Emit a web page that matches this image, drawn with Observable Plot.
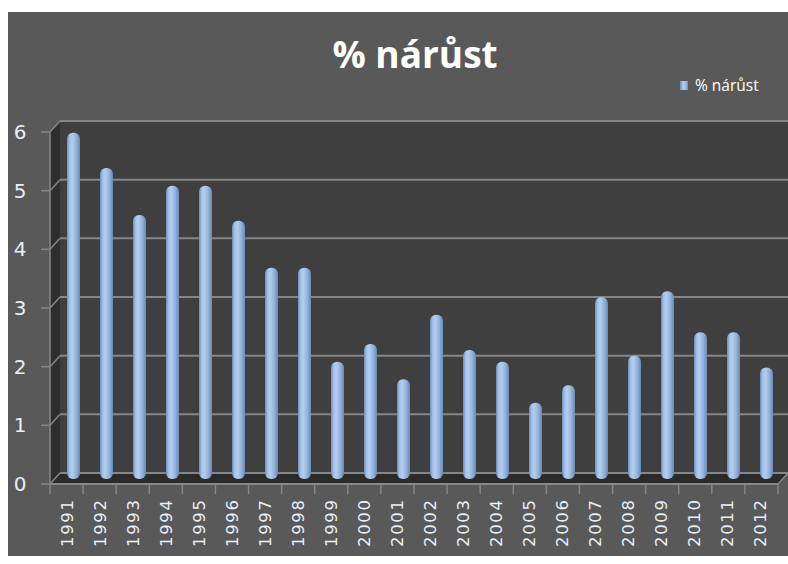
<!DOCTYPE html>
<html><head><meta charset="utf-8">
<script src="https://cdn.jsdelivr.net/npm/d3@7"></script>
<script src="https://cdn.jsdelivr.net/npm/@observablehq/plot@0.6"></script>
<style>
body{margin:0;background:#fff;}
#wrap{position:relative;width:788px;height:564px;overflow:hidden;background:#fff;}
#panel{position:absolute;left:8px;top:12px;width:780px;height:544px;background:#595959;}
#title{position:absolute;left:0;width:830px;top:32px;text-align:center;color:#fff;font-family:"Open Sans",sans-serif;font-weight:700;font-size:37px;line-height:44px;}
#legend{position:absolute;left:680px;top:75px;color:#fff;font-family:"Open Sans",sans-serif;font-size:15.5px;line-height:20px;display:flex;align-items:center;gap:7px;}
#legend .sw{width:8px;height:9px;background:linear-gradient(90deg,#6f8fb8,#b5cff0 45%,#8fb0da 80%,#6a8ab3);}
#chart{position:absolute;left:0;top:0;}
#chart svg g[aria-label="x-axis tick label"] text{letter-spacing:1.6px;}
</style>
</head><body>
<div id="wrap">
  <div id="panel"></div>
  <div id="title"></div>
  <div id="legend"><span class="sw"></span><span id="legtext"></span></div>
  <div id="chart"></div>
</div>
<script>
const years = ["1991","1992","1993","1994","1995","1996","1997","1998","1999","2000","2001","2002","2003","2004","2005","2006","2007","2008","2009","2010","2011","2012"];
const growth = [5.9,5.3,4.5,5.0,5.0,4.4,3.6,3.6,2.0,2.3,1.7,2.8,2.2,2.0,1.3,1.6,3.1,2.1,3.2,2.5,2.5,1.9];
const yTicks = [0,1,2,3,4,5,6];
const seriesName = "% nárůst";
const chartTitle = "% nárůst";

document.getElementById("title").textContent = chartTitle;
document.getElementById("legtext").textContent = seriesName;

const data = years.map((y, i) => ({year: y, value: growth[i]}));
const DX = 10, DY = -11; // 3D depth offset of back wall
const gridColor = "#868686";

function walls(index, scales, values, dims) {
  const x0 = dims.marginLeft, x1 = dims.width - dims.marginRight;
  const y = scales.y;
  const y0 = y(0), y6 = y(yTicks[yTicks.length-1]);
  const g = d3.create("svg:g");
  g.append("rect").attr("x", x0+DX).attr("y", y6+DY).attr("width", x1-x0).attr("height", y0-y6).attr("fill", "#3f3f3f");
  g.append("polygon").attr("points", [[x0,y6],[x0+DX,y6+DY],[x0+DX,y0+DY],[x0,y0]].join(" ")).attr("fill", "#2e2e2e");
  g.append("polygon").attr("points", [[x0,y0],[x0+DX,y0+DY],[x1+DX,y0+DY],[x1,y0]].join(" ")).attr("fill", "#2b2b2b");
  for (const t of yTicks) {
    g.append("line").attr("x1", x0+DX).attr("x2", x1+DX).attr("y1", y(t)+DY).attr("y2", y(t)+DY).attr("stroke", gridColor).attr("stroke-width", 2);
    g.append("line").attr("x1", x0).attr("x2", x0+DX).attr("y1", y(t)).attr("y2", y(t)+DY).attr("stroke", gridColor).attr("stroke-width", 1.5);
    g.append("line").attr("x1", x0-9).attr("x2", x0).attr("y1", y(t)).attr("y2", y(t)).attr("stroke", gridColor).attr("stroke-width", 1.5);
  }
  g.append("line").attr("x1", x1).attr("x2", x1+DX).attr("y1", y0).attr("y2", y0+DY).attr("stroke", gridColor).attr("stroke-width", 1.5);
  return g.node();
}

function frontAxes(index, scales, values, dims) {
  const x0 = dims.marginLeft, x1 = dims.width - dims.marginRight;
  const y = scales.y;
  const y0 = y(0), y6 = y(yTicks[yTicks.length-1]);
  const bw = (x1 - x0) / years.length;
  const g = d3.create("svg:g");
  g.append("line").attr("x1", x0).attr("x2", x0).attr("y1", y6).attr("y2", y0).attr("stroke", gridColor).attr("stroke-width", 1.5);
  g.append("line").attr("x1", x0).attr("x2", x1).attr("y1", y0).attr("y2", y0).attr("stroke", gridColor).attr("stroke-width", 2);
  for (let i = 0; i <= years.length; i++) {
    const xx = x0 + i * bw;
    g.append("line").attr("x1", xx).attr("x2", xx).attr("y1", y0).attr("y2", y0+10).attr("stroke", gridColor).attr("stroke-width", 1.5);
  }
  return g.node();
}

const chart = Plot.plot({
  width: 788,
  height: 564,
  marginLeft: 50,
  marginRight: 10,
  marginTop: 132,
  marginBottom: 80,
  style: {background: "transparent", fontFamily: "DejaVu Sans, sans-serif", overflow: "visible"},
  x: {type: "band", domain: years, padding: 0, label: null},
  y: {domain: [0, 6], label: null},
  marks: [
    walls,
    Plot.barY(data, {x: "year", y: "value", dx: 6, dy: -5, insetLeft: 10, insetRight: 10, rx: 6, fill: "url(#cyl)"}),
    frontAxes,
    Plot.axisY({ticks: yTicks, tickFormat: "d", tickSize: 0, tickPadding: 24, fontSize: 20, color: "#e9eef7", label: null}),
    Plot.axisX({tickSize: 0, tickRotate: -90, tickPadding: 14, fontSize: 16.5, color: "#e9eef7", label: null})
  ]
});

const defs = d3.select(chart).insert("defs", ":first-child");
const grad = defs.append("linearGradient").attr("id", "cyl").attr("x1", 0).attr("x2", 1).attr("y1", 0).attr("y2", 0);
[[0,"#6d8db6"],[0.2,"#a3c0e6"],[0.4,"#b3cdef"],[0.7,"#94b4dd"],[1,"#6a89b2"]].forEach(([o,c]) => grad.append("stop").attr("offset", o).attr("stop-color", c));

document.getElementById("chart").appendChild(chart);
</script>
</body></html>
